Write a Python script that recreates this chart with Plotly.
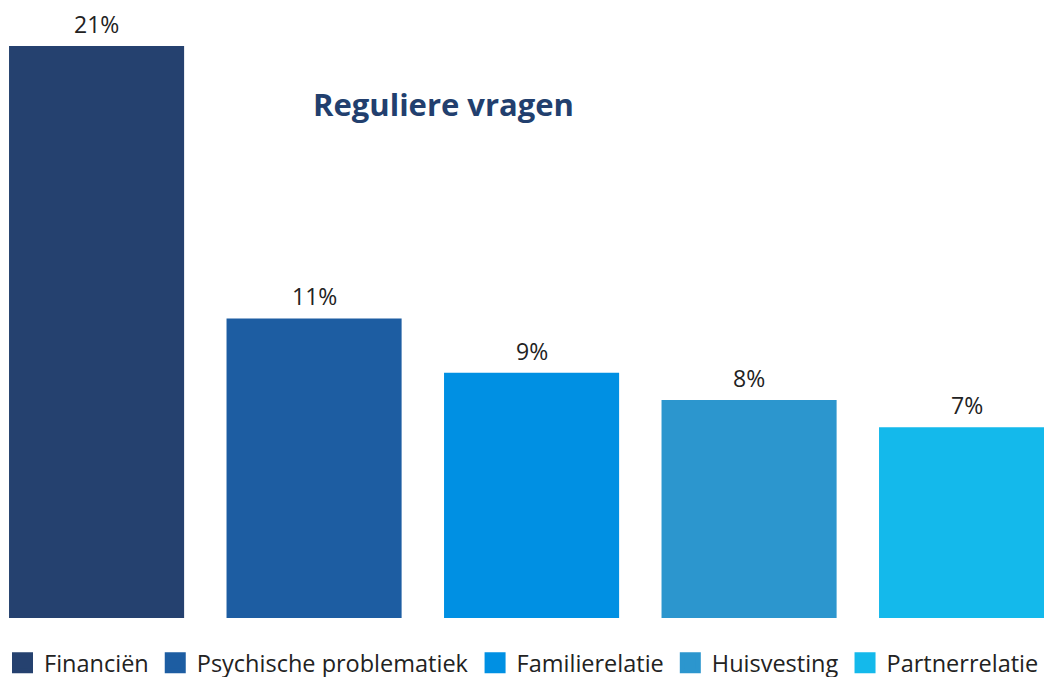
import plotly.graph_objects as go

categories = ["Financiën", "Psychische problematiek", "Familierelatie", "Huisvesting", "Partnerrelatie"]
values = [21, 11, 9, 8, 7]
colors = ["#25416F", "#1D5DA2", "#0090E3", "#2C96CE", "#14B9EB"]
title_text = "Reguliere vragen"

fig = go.Figure()
fig.add_trace(go.Bar(
    x=list(range(len(categories))), y=values,
    marker=dict(color=colors, line=dict(width=0)),
    width=0.805, showlegend=False, hoverinfo="skip",
))
for i, v in enumerate(values):
    fig.add_annotation(x=i, y=v, text=f"{v}%", showarrow=False, yanchor="bottom",
                       yshift=4, font=dict(family="Open Sans", size=23, color="#222222"))
for c, col in zip(categories, colors):
    fig.add_trace(go.Scatter(
        x=[None], y=[None], mode="markers", name=c,
        marker=dict(symbol="square", size=16, color=col, line=dict(color=col, width=5)),
    ))

fig.add_annotation(text=f"<b>{title_text}</b>", xref="paper", yref="paper",
                   x=443/1044, y=1 - 104/618, xanchor="center", yanchor="middle",
                   showarrow=False, font=dict(family="Open Sans", size=31, color="#223F6E"))

fig.update_layout(
    width=1044, height=677,
    margin=dict(l=0, r=0, t=0, b=59),
    plot_bgcolor="white", paper_bgcolor="white",
    xaxis=dict(range=[-0.444, 4.356], showticklabels=False, showgrid=False, zeroline=False),
    yaxis=dict(range=[0, 22.69], showticklabels=False, showgrid=False, zeroline=False),
    legend=dict(orientation="h", x=14/1044, xanchor="left",
                yref="container", y=(677 - 663) / 677, yanchor="middle",
                font=dict(family="Open Sans", size=23.5, color="#222222"),
                itemsizing="trace", itemwidth=33, traceorder="normal"),
)

fig.write_html("out.html", config={"displayModeBar": False},
               post_script="document.body.style.margin='0';document.body.style.overflow='hidden';")
